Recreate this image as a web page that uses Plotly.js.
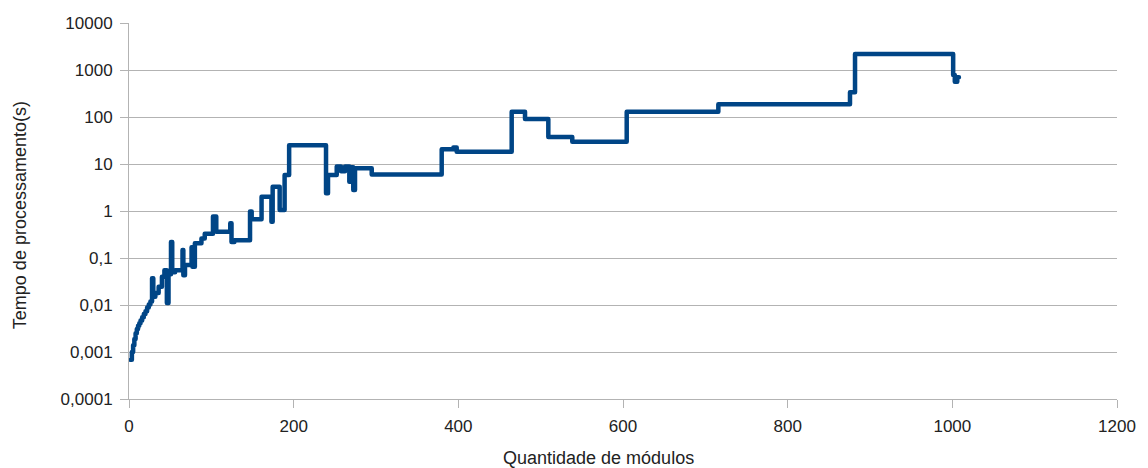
<!DOCTYPE html>
<html>
<head>
<meta charset="utf-8">
<script src="https://cdn.plot.ly/plotly-3.0.1.min.js"></script>
<style>
html,body{margin:0;padding:0;background:#fff;}
#chart{width:1148px;height:468px;}
#chart .js-line{stroke-linejoin:round;stroke-linecap:round;}
</style>
</head>
<body>
<div id="chart"></div>
<script>
// Quantidade de módulos
const modulos = [2, 3.5, 5, 6.5, 8, 9.5, 11, 12.5, 14, 16, 18, 20, 22, 24, 26, 28, 29.5, 32, 36, 40, 43, 46, 48, 51, 52.5, 56, 65, 66, 68, 76, 77, 80, 88, 92, 102, 106, 123, 124.5, 128, 147, 149, 161, 173, 174.5, 183, 189, 194.5, 239.3, 241.7, 252.3, 257.5, 262.4, 267.6, 269.6, 272.4, 274.5, 294.8, 379.8, 394, 398, 464.8, 481, 509.3, 538.4, 604.5, 715.8, 875.7, 881.8, 1001, 1003, 1006, 1008];
// Tempo de processamento (s)
const tempo = [0.00068, 0.001, 0.0014, 0.0019, 0.0025, 0.0031, 0.0036, 0.0041, 0.0047, 0.0055, 0.0064, 0.0074, 0.0088, 0.0102, 0.0118, 0.037, 0.015, 0.018, 0.0245, 0.04, 0.055, 0.011, 0.045, 0.22, 0.05, 0.055, 0.148, 0.043, 0.071, 0.17, 0.065, 0.205, 0.26, 0.33, 0.76, 0.36, 0.55, 0.22, 0.24, 0.97, 0.67, 2.0, 0.59, 3.3, 1.05, 5.8, 25, 2.4, 5.8, 8.8, 7.0, 8.8, 4.2, 8.5, 2.8, 8.1, 6.0, 20.5, 22.5, 18.3, 129, 90.6, 37.5, 29.8, 129, 186, 335, 2190, 783, 560, 700, 700];

const yTickVals = [0.0001, 0.001, 0.01, 0.1, 1, 10, 100, 1000, 10000];
const yTickText = ["0,0001", "0,001", "0,01", "0,1", "1", "10", "100", "1000", "10000"];
const xTickVals = [0, 200, 400, 600, 800, 1000, 1200];
const xTickText = ["0", "200", "400", "600", "800", "1000", "1200"];

const textFont = {family: "Liberation Sans, Arial, sans-serif", size: 17, color: "#222222"};

const trace = {
  x: modulos,
  y: tempo,
  type: "scatter",
  mode: "lines",
  line: {shape: "hv", color: "#004586", width: 4.5},
  hoverinfo: "skip"
};

const layout = {
  width: 1148,
  height: 468,
  margin: {l: 129, r: 31, t: 23, b: 69},
  paper_bgcolor: "#ffffff",
  plot_bgcolor: "#ffffff",
  showlegend: false,
  xaxis: {
    range: [0, 1200],
    tickvals: xTickVals,
    ticktext: xTickText,
    showgrid: false,
    zeroline: false,
    showline: true,
    linecolor: "#b3b3b3",
    linewidth: 1,
    ticks: "outside",
    ticklen: 8,
    tickcolor: "#b3b3b3",
    tickfont: textFont,
    ticklabelstandoff: 4
  },
  yaxis: {
    type: "log",
    range: [-4, 4],
    tickvals: yTickVals,
    ticktext: yTickText,
    showgrid: true,
    gridcolor: "#b3b3b3",
    gridwidth: 1,
    zeroline: false,
    showline: true,
    linecolor: "#b3b3b3",
    linewidth: 1,
    ticks: "outside",
    ticklen: 8,
    tickcolor: "#b3b3b3",
    tickfont: textFont,
    ticklabelstandoff: 4
  },
  annotations: [
    {
      text: "Quantidade de módulos",
      xref: "paper", yref: "paper",
      x: 0.4747, y: -0.158,
      xanchor: "center", yanchor: "middle",
      showarrow: false,
      font: {family: "Liberation Sans, Arial, sans-serif", size: 18, color: "#222222"}
    },
    {
      text: "Tempo de processamento(s)",
      xref: "paper", yref: "paper",
      x: -0.1103, y: 0.489,
      xanchor: "center", yanchor: "middle",
      textangle: -90,
      showarrow: false,
      font: {family: "Liberation Sans, Arial, sans-serif", size: 18, color: "#222222"}
    }
  ]
};

Plotly.newPlot("chart", [trace], layout, {staticPlot: true, displayModeBar: false});
</script>
</body>
</html>
